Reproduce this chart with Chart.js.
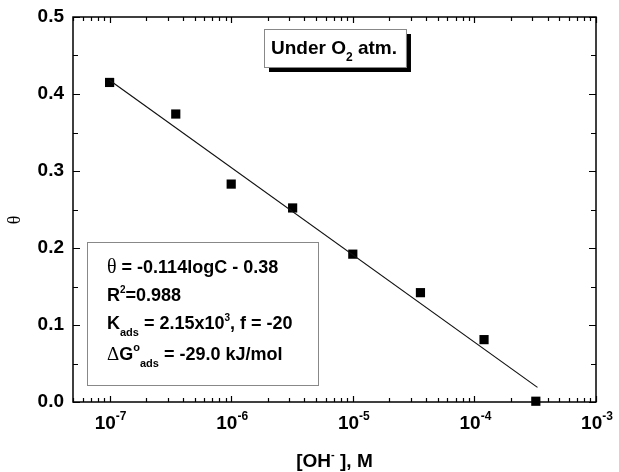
<!DOCTYPE html>
<html>
<head>
<meta charset="utf-8">
<script src="https://cdn.jsdelivr.net/npm/chart.js@4.4.1/dist/chart.umd.min.js"></script>
<style>
  html, body { margin: 0; padding: 0; background: #fff; }
  #wrap { width: 619px; height: 472px; }
</style>
</head>
<body>
<div id="wrap"><canvas id="adsChart" width="619" height="472"></canvas></div>
<script>
// measured points, [OH-] in M vs surface coverage
const concentration = [1e-7, 3.5e-7, 1e-6, 3.2e-6, 1e-5, 3.6e-5, 1.2e-4, 3.2e-4];
const theta = [0.415, 0.374, 0.283, 0.252, 0.192, 0.142, 0.081, 0.001];

// Temkin fit line end points
const fitX = [1e-7, 3.3e-4];
const fitY = [0.418, 0.019];

const yTicks = [0, 0.1, 0.2, 0.3, 0.4, 0.5];
const yMinorTicks = [0.05, 0.15, 0.25, 0.35, 0.45];
const xDecades = [-7, -6, -5, -4, -3];

const SANS = '"Liberation Sans", Arial, sans-serif';
const SERIF = '"Liberation Serif", "Times New Roman", serif';

function drawRich(ctx, x, y, parts) {
  let cx = x;
  parts.forEach((p) => {
    ctx.font = p.font;
    ctx.fillText(p.t, cx, y + (p.dy || 0));
    cx += ctx.measureText(p.t).width + (p.gap || 0);
  });
  return cx;
}

const b = (s) => 'bold ' + s + 'px ' + SANS;
const sym = (s) => s + 'px ' + SERIF;

const framePlugin = {
  id: 'frame',
  afterDraw(chart) {
    const { ctx, chartArea: a, scales } = chart;
    const xs = scales.x, ys = scales.y;
    ctx.save();
    ctx.strokeStyle = '#000';
    ctx.fillStyle = '#000';
    ctx.lineWidth = 1.5;
    ctx.strokeRect(a.left, a.top, a.right - a.left, a.bottom - a.top);

    // y ticks, both sides, pointing in
    ctx.lineWidth = 1.2;
    ctx.beginPath();
    yTicks.concat(yMinorTicks).forEach((v) => {
      const py = Math.round(ys.getPixelForValue(v)) + 0.5;
      const len = yTicks.includes(v) ? 7 : 5;
      ctx.moveTo(a.left, py); ctx.lineTo(a.left + len, py);
      ctx.moveTo(a.right, py); ctx.lineTo(a.right - len, py);
    });
    // x ticks, log decades and minors
    for (let e = -8; e <= -3; e++) {
      for (let m = 1; m <= 9; m++) {
        const v = m * Math.pow(10, e);
        if (v < xs.min || v > xs.max) continue;
        const px = Math.round(xs.getPixelForValue(v)) + 0.5;
        const len = m === 1 ? 6 : 4;
        ctx.moveTo(px, a.bottom); ctx.lineTo(px, a.bottom - len);
        ctx.moveTo(px, a.top); ctx.lineTo(px, a.top + len);
      }
    }
    ctx.stroke();

    // y tick labels
    ctx.textAlign = 'right';
    ctx.textBaseline = 'middle';
    ctx.font = b(19);
    yTicks.forEach((v) => {
      ctx.fillText(v.toFixed(1), a.left - 9, ys.getPixelForValue(v));
    });

    // x tick labels 10^n
    ctx.textBaseline = 'alphabetic';
    ctx.textAlign = 'left';
    xDecades.forEach((e) => {
      ctx.font = b(19);
      const w1 = ctx.measureText('10').width;
      ctx.font = b(12);
      const w2 = ctx.measureText(String(e)).width;
      const px = xs.getPixelForValue(Math.pow(10, e));
      const x0 = px - (w1 + w2) / 2 + 1;
      drawRich(ctx, x0, a.bottom + 27, [
        { t: '10', font: b(19) },
        { t: String(e), font: b(12), dy: -9 }
      ]);
    });

    // axis titles
    ctx.font = b(19);
    const t1 = ctx.measureText('[OH').width;
    ctx.font = b(11);
    const t2 = ctx.measureText('-').width;
    ctx.font = b(19);
    const t3 = ctx.measureText(' ], M').width;
    const tx = (a.left + a.right) / 2 - (t1 + t2 + t3) / 2;
    drawRich(ctx, tx, 467, [
      { t: '[OH', font: b(19) },
      { t: '-', font: b(11), dy: -9 },
      { t: ' ], M', font: b(19) }
    ]);

    ctx.save();
    ctx.translate(20, 220);
    ctx.rotate(-Math.PI / 2);
    ctx.textAlign = 'center';
    ctx.font = sym(18);
    ctx.fillText('\u03b8', 0, 0);
    ctx.restore();

    // "Under O2 atm." label with shadow
    const lx = 264, ly = 29, lh = 38;
    ctx.textAlign = 'left';
    ctx.font = b(19);
    let lw = ctx.measureText('Under O').width + ctx.measureText(' atm.').width;
    ctx.font = b(12);
    lw += ctx.measureText('2').width + 16;
    ctx.fillStyle = '#000';
    ctx.fillRect(lx + 5, ly + 5, lw, lh);
    ctx.fillStyle = '#fff';
    ctx.fillRect(lx, ly, lw, lh);
    ctx.strokeStyle = '#888';
    ctx.lineWidth = 1;
    ctx.strokeRect(lx + 0.5, ly + 0.5, lw, lh);
    ctx.fillStyle = '#000';
    drawRich(ctx, lx + 7, ly + 25, [
      { t: 'Under O', font: b(19) },
      { t: '2', font: b(12), dy: 7 },
      { t: ' atm.', font: b(19) }
    ]);

    // fit parameter box
    ctx.fillStyle = '#fff';
    ctx.fillRect(87, 242, 231, 143);
    ctx.strokeStyle = '#888';
    ctx.strokeRect(87.5, 242.5, 231, 143);
    ctx.fillStyle = '#000';
    const ex = 107;
    drawRich(ctx, ex, 273, [
      { t: '\u03b8', font: sym(20) },
      { t: ' = -0.114logC - 0.38', font: b(18) }
    ]);
    drawRich(ctx, ex, 301, [
      { t: 'R', font: b(18) },
      { t: '2', font: b(10), dy: -8 },
      { t: '=0.988', font: b(18) }
    ]);
    drawRich(ctx, ex, 329, [
      { t: 'K', font: b(18) },
      { t: 'ads', font: b(11), dy: 7 },
      { t: ' = 2.15x10', font: b(18) },
      { t: '3', font: b(10), dy: -8 },
      { t: ', f = -20', font: b(18) }
    ]);
    drawRich(ctx, ex, 360, [
      { t: '\u0394', font: sym(19) },
      { t: 'G', font: b(18) },
      { t: 'o', font: b(11), dy: -9 },
      { t: 'ads', font: b(11), dy: 7 },
      { t: ' = -29.0 kJ/mol', font: b(18) }
    ]);
    ctx.restore();
  }
};

const points = concentration.map((c, i) => ({ x: c, y: theta[i] }));
const fit = fitX.map((c, i) => ({ x: c, y: fitY[i] }));

new Chart(document.getElementById('adsChart'), {
  type: 'scatter',
  data: {
    datasets: [
      {
        label: 'fit',
        data: fit,
        showLine: true,
        borderColor: '#111',
        borderWidth: 1.2,
        pointRadius: 0,
        clip: false,
      },
      {
        label: 'theta',
        data: points,
        pointStyle: 'rect',
        pointRadius: 6.5,
        backgroundColor: '#000',
        borderColor: '#000',
        borderWidth: 0,
        clip: false,
      },
    ],
  },
  options: {
    responsive: false,
    animation: false,
    layout: { padding: { left: 73, right: 23, top: 17, bottom: 70 } },
    plugins: { legend: { display: false }, tooltip: { enabled: false } },
    scales: {
      x: { type: 'logarithmic', min: 5e-8, max: 1e-3, display: false },
      y: { min: 0, max: 0.5, display: false },
    },
  },
  plugins: [framePlugin],
});
</script>
</body>
</html>
